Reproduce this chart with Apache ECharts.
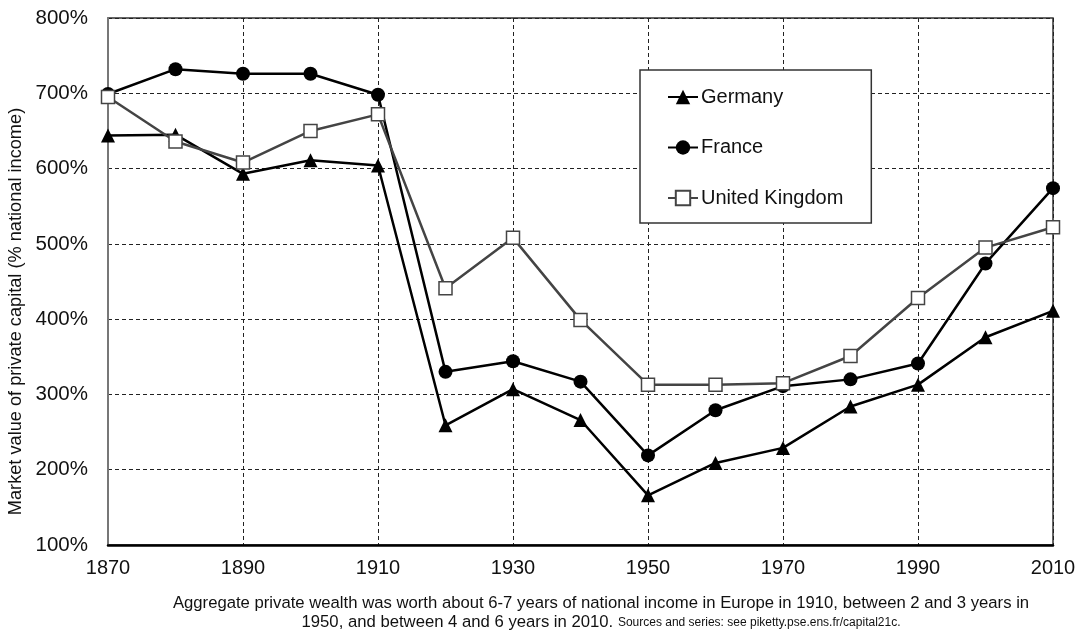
<!DOCTYPE html>
<html>
<head>
<meta charset="utf-8">
<script src="https://cdn.jsdelivr.net/npm/echarts@6/dist/echarts.min.js"></script>
<style>
html,body{margin:0;padding:0;background:#fff;}
#c{width:1081px;height:631px;}
</style>
</head>
<body>
<div id="c"></div>
<script>
const years = ['1870','1880','1890','1900','1910','1920','1930','1940','1950','1960','1970','1980','1990','2000','2010'];
const germany = [644, 645, 593, 611, 604, 259, 307, 266, 166, 209, 229, 284, 313, 376, 411];
const france  = [699, 732, 726, 726, 698, 330, 344, 317, 219, 279, 311, 320, 341, 474, 574];
const uk      = [695, 636, 608, 650, 672, 441, 508, 399, 313, 313, 315, 351, 428, 495, 522];
const yTicks = [100, 200, 300, 400, 500, 600, 700, 800];

const FONT = '"Liberation Sans", Arial, sans-serif';
const chart = echarts.init(document.getElementById('c'), null, {renderer: 'canvas'});

chart.setOption({
  animation: false,
  backgroundColor: '#fff',
  textStyle: {fontFamily: FONT},
  title: {
    left: 596,
    top: 589,
    textAlign: 'center',
    text: '{a|Aggregate private wealth was worth about 6-7 years of national income in Europe in 1910, between 2 and 3 years in}\n{a|1950, and between 4 and 6 years in 2010. }{b|Sources and series: see piketty.pse.ens.fr/capital21c.}',
    textStyle: {
      fontFamily: FONT,
      fontWeight: 'normal',
      rich: {
        a: {fontSize: 16.7, color: '#111', fontFamily: FONT, fontWeight: 'normal', lineHeight: 19},
        b: {fontSize: 12, color: '#111', fontFamily: FONT, fontWeight: 'normal', lineHeight: 19}
      }
    }
  },
  grid: {
    left: 108, right: 28, top: 18, bottom: 86,
    outerBoundsMode: 'none',
    containLabel: false,
    show: true, borderColor: '#333', borderWidth: 1.5, backgroundColor: 'transparent'
  },
  legend: {
    orient: 'vertical',
    left: 640, top: 70,
    padding: [17, 28, 15, 27],
    itemWidth: 30, itemHeight: 18, itemGap: 30.5,
    backgroundColor: '#fff',
    borderColor: '#333', borderWidth: 1.5,
    textStyle: {fontSize: 20, color: '#111', fontFamily: FONT, padding: [0, 0, 0, -2]},
    data: ['Germany', 'France', 'United Kingdom']
  },
  xAxis: {
    type: 'category',
    data: years,
    boundaryGap: false,
    axisLine: {show: true, lineStyle: {color: '#000', width: 2.5}},
    axisTick: {show: false},
    axisLabel: {interval: 1, fontSize: 20, color: '#111', margin: 13, fontFamily: FONT},
    splitLine: {show: true, interval: 1, lineStyle: {color: '#222', type: [4, 3], width: 1}}
  },
  yAxis: {
    type: 'value',
    min: yTicks[0], max: yTicks[yTicks.length - 1], interval: 100,
    name: 'Market value of private capital (% national income)',
    nameLocation: 'middle',
    nameGap: 71,
    nameTextStyle: {fontSize: 18.2, color: '#111', fontFamily: FONT, padding: [0, 60, 0, 0]},
    axisLine: {show: true, lineStyle: {color: '#777', width: 2}},
    axisTick: {show: false},
    axisLabel: {fontSize: 20.5, color: '#111', margin: 20, formatter: v => v + '%', fontFamily: FONT},
    splitLine: {show: true, lineStyle: {color: '#222', type: [4, 3], width: 1}}
  },
  series: [
    {
      name: 'Germany', type: 'line', data: germany,
      symbol: 'triangle', symbolSize: 14, showAllSymbol: true,
      lineStyle: {color: '#000', width: 2.5},
      itemStyle: {color: '#000', borderColor: '#000', borderWidth: 0}
    },
    {
      name: 'France', type: 'line', data: france,
      symbol: 'circle', symbolSize: 14, showAllSymbol: true,
      lineStyle: {color: '#000', width: 2.5},
      itemStyle: {color: '#000', borderColor: '#000', borderWidth: 0}
    },
    {
      name: 'United Kingdom', type: 'line', data: uk,
      symbol: 'rect', symbolSize: 13, showAllSymbol: true,
      lineStyle: {color: '#444', width: 2.5},
      itemStyle: {color: '#fff', borderColor: '#444', borderWidth: 1.5}
    }
  ]
});
</script>
</body>
</html>
